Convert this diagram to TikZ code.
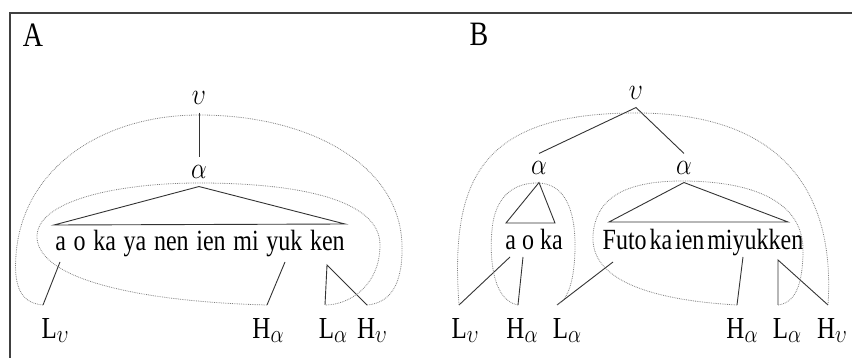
\documentclass[tikz,border=0pt]{standalone}
\usepackage{fontspec}
\setmainfont{Liberation Serif}
\usepackage{tikz}

% el escaneo original esta estirado en vertical
\newcommand{\tall}[1]{\scalebox{1}[1.22]{#1}}
% subindice grande de los tonos
\newcommand{\tsub}[1]{\raisebox{-4pt}{\fontsize{20}{20}\selectfont$#1$}}

\begin{document}
\begin{tikzpicture}[x=1pt, y=-1pt,
    tree/.style={line width=0.9pt, draw=black!80},
    span/.style={densely dotted, line width=0.8pt, draw=black!50},
    word/.style={anchor=base, inner sep=0pt, font=\fontsize{24}{28}\selectfont},
    tone/.style={anchor=base, inner sep=0pt, font=\fontsize{25}{28}\selectfont},
    cat/.style={inner sep=0pt, outer sep=8pt, font=\fontsize{25}{28}\selectfont},
    panel/.style={anchor=base, inner sep=0pt, font=\fontsize{28}{34}\selectfont}]
    \useasboundingbox (0,0) rectangle (852,358);

    % Marco
    \draw[line width=1.2pt, black!75] (10,358) -- (10,13) -- (852,13);

    % Letras de los paneles
    \node[panel] (pA) at (33,47) {\tall{A}};
    \node[panel] (pB) at (479,46) {\tall{B}};

    % ---------------- Panel A ----------------
    \node[cat] (vA) at (199,98) {\tall{$\upsilon$}};
    \node[cat] (aA) at (199,172) {\tall{$\alpha$}};
    \node[word] (sA) at (200,251) {\tall{\spaceskip=0.32em\relax a o ka ya nen ien mi yuk ken}};
    \coordinate (bAl) at (54,225);
    \coordinate (bAr) at (345,224);
    \draw[tree] (vA) -- (aA);
    \draw[tree] (aA.south) -- (bAl) -- (bAr) -- cycle;

    % Tonos (Panel A)
    \node[tone] (LvA) at (55,338) {\tall{L\tsub{\upsilon}}};
    \node[tone] (HaA) at (268,338) {\tall{H\tsub{\alpha}}};
    \node[tone] (LaA) at (333,338) {\tall{L\tsub{\alpha}}};
    \node[tone] (HvA) at (372,338) {\tall{H\tsub{\upsilon}}};
    \coordinate (fLvA) at (43,305);
    \coordinate (fHaA) at (267,305);
    \coordinate (fLaA) at (325,305);
    \coordinate (fHvA) at (367,305);
    \coordinate (tA1) at (60,262);
    \coordinate (tA2) at (285,262);
    \coordinate (tA3) at (327,265);
    \draw[tree] (tA1) -- (fLvA);
    \draw[tree] (tA2) -- (fHaA);
    \draw[tree] (fLaA) -- (tA3) -- (fHvA);

    % Dominios (Panel A)
    \draw[span] (fLvA) .. controls (18,303) and (14,282) .. (16,255)
        .. controls (22,170) and (100,115) .. (199,115)
        .. controls (310,115) and (400,165) .. (402,245)
        .. controls (403,285) and (390,303) .. (fHvA);
    \draw[span] (fHaA) .. controls (150,302) and (40,282) .. (37,238)
        .. controls (35,200) and (120,183) .. (199,183)
        .. controls (300,183) and (380,200) .. (380,245)
        .. controls (380,285) and (350,305) .. (fLaA);

    % ---------------- Panel B ----------------
    \node[cat] (vB) at (636,93) {\tall{$\upsilon$}};
    \node[cat] (aB1) at (539,168) {\tall{$\alpha$}};
    \node[cat] (aB2) at (684,168) {\tall{$\alpha$}};
    \node[word] (sB1) at (534,250) {\tall{a o ka}};
    \node[word] (sB2) at (703,250) {\tall{\spaceskip=0.12em\relax Futo ka ien miyukken}};
    \coordinate (bB1l) at (506,223);
    \coordinate (bB1r) at (555,223);
    \coordinate (bB2l) at (609,222);
    \coordinate (bB2r) at (788,222);
    \draw[tree] (aB1.north) -- (vB.south) -- (aB2.north);
    \draw[tree] (aB1.south) -- (bB1l) -- (bB1r) -- cycle;
    \draw[tree] (aB2.south) -- (bB2l) -- (bB2r) -- cycle;

    % Tonos (Panel B)
    \node[tone] (LvB) at (465,338) {\tall{L\tsub{\upsilon}}};
    \node[tone] (HaB1) at (522,338) {\tall{H\tsub{\alpha}}};
    \node[tone] (LaB1) at (567,338) {\tall{L\tsub{\alpha}}};
    \node[tone] (HaB2) at (742,338) {\tall{H\tsub{\alpha}}};
    \node[tone] (LaB2) at (787,338) {\tall{L\tsub{\alpha}}};
    \node[tone] (HvB) at (832,338) {\tall{H\tsub{\upsilon}}};
    \coordinate (fLvB) at (459,305);
    \coordinate (fHaB1) at (518,305);
    \coordinate (fLaB1) at (557,305);
    \coordinate (fHaB2) at (737,305);
    \coordinate (fLaB2) at (778,305);
    \coordinate (fHvB) at (828,305);
    \coordinate (tB1) at (510,257);
    \coordinate (tB2) at (523,257);
    \coordinate (tB3) at (613,262);
    \coordinate (tB4) at (743,257);
    \coordinate (tB5) at (778,260);
    \draw[tree] (tB1) -- (fLvB);
    \draw[tree] (tB2) -- (fHaB1);
    \draw[tree] (tB3) -- (fLaB1);
    \draw[tree] (tB4) -- (fHaB2);
    \draw[tree] (fLaB2) -- (tB5) -- (fHvB);

    % Dominios (Panel B)
    \draw[span] (fLvB) .. controls (450,180) and (480,113) .. (636,113)
        .. controls (790,113) and (835,200) .. (fHvB);
    \draw[span] (fHaB1) .. controls (490,300) and (490,250) .. (492,230)
        .. controls (495,195) and (515,183) .. (537,183)
        .. controls (565,183) and (575,210) .. (575,245)
        .. controls (575,280) and (568,300) .. (fLaB1);
    \draw[span] (fHaB2) .. controls (650,300) and (590,280) .. (593,235)
        .. controls (596,195) and (630,181) .. (682,181)
        .. controls (750,181) and (803,200) .. (803,250)
        .. controls (803,285) and (795,303) .. (fLaB2);
\end{tikzpicture}
\end{document}
